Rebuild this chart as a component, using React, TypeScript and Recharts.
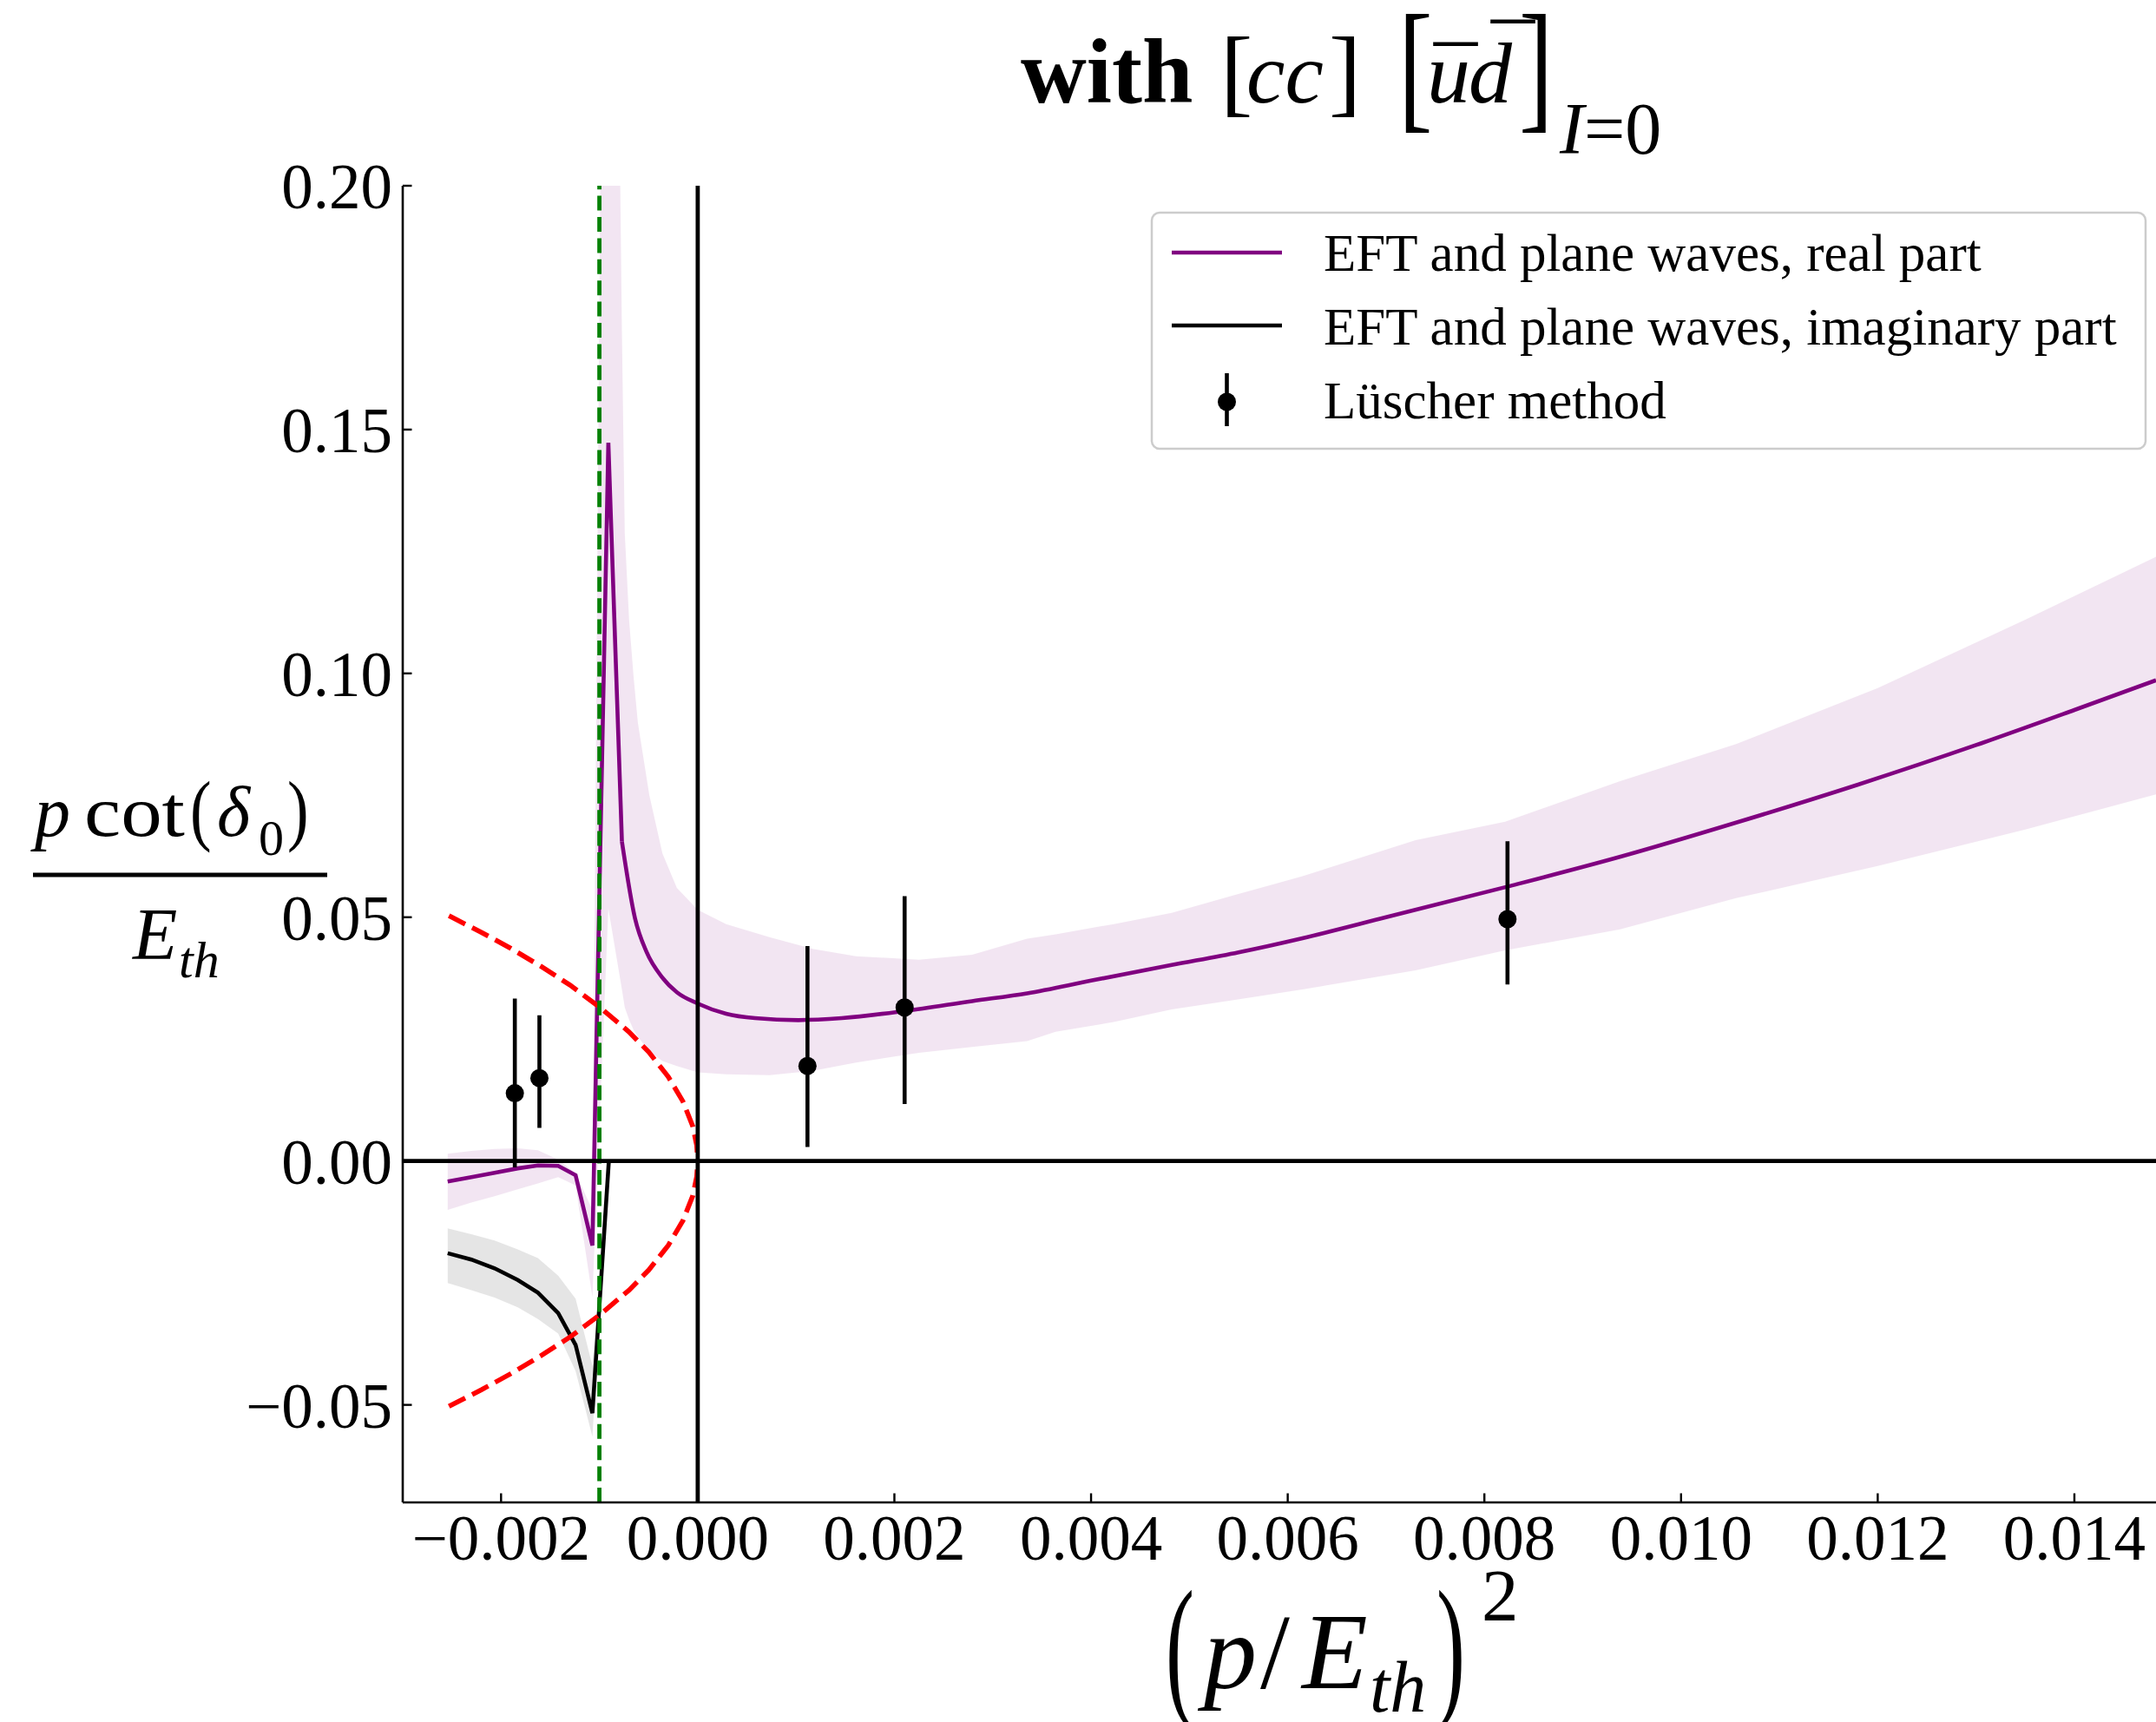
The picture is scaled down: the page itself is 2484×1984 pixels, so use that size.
import React from 'react';
import {
  ComposedChart,
  Line,
  Area,
  Scatter,
  ErrorBar,
  XAxis,
  YAxis,
  ReferenceLine,
} from 'recharts';

const FONT = '"Liberation Serif", "Times New Roman", serif';

// Real part of p cot(delta_0)/E_th from the EFT with plane waves
const realX = [
  -0.002543, -0.002302, -0.002066, -0.00183, -0.001625, -0.001419, -0.001242, -0.001071,
  -0.000909, -0.000771, -0.000638, -0.000521, -0.000359, -0.000212, 0, 0.000289, 0.000583,
  0.001024, 0.001466, 0.002113, 0.00279, 0.00335, 0.004, 0.00482, 0.0055, 0.00615, 0.007,
  0.00824, 0.0094, 0.01056, 0.0118, 0.013, 0.014, 0.01483,
];
const realY = [
  -0.0042, -0.0033, -0.0024, -0.0015, -0.0009, -0.001, -0.0029, -0.0173,
  0.1473, 0.0655, 0.0498, 0.0429, 0.0376, 0.0346, 0.0323, 0.0302, 0.0293,
  0.0289, 0.0293, 0.0308, 0.0328, 0.0344, 0.037, 0.0402, 0.0428, 0.0457, 0.05,
  0.0563, 0.0625, 0.0694, 0.0772, 0.0853, 0.0925, 0.0986,
];
// index where the coarse sub-threshold grid ends and the smooth branch begins
const SMOOTH_FROM = 9;

// Uncertainty band of the real part
const realBandX = [
  -0.002543, -0.002302, -0.002066, -0.00183, -0.001625, -0.001419, -0.001242, -0.001071,
  -0.000909, -0.000771, -0.000742, -0.000698, -0.000653, -0.000609, -0.000492, -0.000359,
  -0.000212, 0, 0.000289, 0.00073, 0.00117, 0.00161, 0.00225, 0.00279, 0.00335, 0.00364,
  0.00423, 0.00482, 0.00545, 0.00615, 0.0073, 0.00821, 0.00938, 0.01056, 0.012, 0.0135, 0.01483,
];
const realBandLo = [
  -0.01, -0.0085, -0.0072, -0.0058, -0.0046, -0.0033, -0.005, -0.0279,
  0.0518, 0.0352, 0.0315, 0.029, 0.0269, 0.0255, 0.0225, 0.0205,
  0.0195, 0.0182, 0.0178, 0.0176, 0.0185, 0.0202, 0.0222, 0.0234, 0.0246, 0.0265,
  0.0285, 0.0311, 0.033, 0.0352, 0.0391, 0.0432, 0.0475, 0.0539, 0.0605, 0.068, 0.0752,
];
const realBandHi = [
  0.0015, 0.0021, 0.0025, 0.0026, 0.0022, 0.0003, -0.0025, -0.01,
  0.417, 0.17, 0.1288, 0.111, 0.0995, 0.0899, 0.075, 0.0631,
  0.056, 0.0515, 0.0486, 0.0459, 0.0435, 0.042, 0.0413, 0.0423, 0.0456, 0.0465,
  0.0486, 0.0509, 0.0545, 0.0584, 0.0658, 0.0696, 0.0779, 0.0855, 0.097, 0.111, 0.1239,
];

// Imaginary part below threshold, with its band
const imagX = [-0.002543, -0.002302, -0.002066, -0.00183, -0.001625, -0.001419, -0.001242, -0.001071, -0.000904];
const imagY = [-0.0189, -0.0202, -0.022, -0.0244, -0.027, -0.0312, -0.0377, -0.0517, 0];
const imagBandLo = [-0.025, -0.0265, -0.028, -0.03, -0.0324, -0.0354, -0.0431, -0.0565, -0.0004];
const imagBandHi = [-0.0138, -0.015, -0.0163, -0.0181, -0.0199, -0.0235, -0.0282, -0.042, 0.0002];

// Bound-state condition curve +-|p|/E_th
const boundX = [-0.00253, -0.0022, -0.0019, -0.0016, -0.0013, -0.001, -0.0007, -0.0005, -0.0003, -0.00015, -0.00005, -0.00001, 0];
const boundUp = [0.0503, 0.0469, 0.0436, 0.04, 0.0361, 0.0316, 0.0265, 0.0224, 0.0173, 0.0122, 0.0071, 0.0032, 0];
const boundDown = [-0.0503, -0.0469, -0.0436, -0.04, -0.0361, -0.0316, -0.0265, -0.0224, -0.0173, -0.0122, -0.0071, -0.0032, 0];

// Lüscher-method points with asymmetric errors
const lusX = [-0.00186, -0.00161, 0.001116, 0.002104, 0.008235];
const lusY = [0.0139, 0.017, 0.0195, 0.0315, 0.0496];
const lusLow = [-0.0013, 0.0068, 0.0029, 0.0117, 0.0362];
const lusHigh = [0.0333, 0.0299, 0.0441, 0.0543, 0.0656];

const xTicks = [-0.002, 0, 0.002, 0.004, 0.006, 0.008, 0.01, 0.012, 0.014];
const yTicks = [-0.05, 0, 0.05, 0.1, 0.15, 0.2];
const X_DOMAIN: [number, number] = [-0.003, 0.01483];
const Y_DOMAIN: [number, number] = [-0.07, 0.2];
const THRESHOLD_X = -0.001;

const realData = realX.map((x, i) => ({ x, y: realY[i] }));
const realCoarse = realData.slice(0, SMOOTH_FROM + 1);
const realSmooth = realData.slice(SMOOTH_FROM);
const realBand = realBandX.map((x, i) => ({ x, band: [realBandLo[i], realBandHi[i]] }));
const imagData = imagX.map((x, i) => ({ x, y: imagY[i] }));
const imagBand = imagX.map((x, i) => ({ x, band: [imagBandLo[i], imagBandHi[i]] }));
const boundData = boundX.map((x, i) => ({ x, up: boundUp[i], down: boundDown[i] }));
const lusData = lusX.map((x, i) => ({ x, y: lusY[i], err: [lusY[i] - lusLow[i], lusHigh[i] - lusY[i]] }));

const W = 2484;
const H = 1984;

const fmt = (v: number, d: number) => (v < 0 ? '\u2212' : '') + Math.abs(v).toFixed(d);

const XTick = (props: any) => {
  const { x, y, payload } = props;
  return (
    <g>
      <line x1={x} x2={x} y1={y} y2={y - 10.5} stroke="#000" strokeWidth={2.4} />
      <text x={x} y={y + 66} textAnchor="middle" fontFamily={FONT} fontSize={73} fill="#000">
        {fmt(payload.value, 3)}
      </text>
    </g>
  );
};

const YTick = (props: any) => {
  const { x, y, payload } = props;
  return (
    <g>
      <line x1={x} x2={x + 10.5} y1={y} y2={y} stroke="#000" strokeWidth={2.4} />
      <text x={x - 12} y={y + 26} textAnchor="end" fontFamily={FONT} fontSize={73} fill="#000">
        {fmt(payload.value, 2)}
      </text>
    </g>
  );
};

const Dot = (props: any) => <circle cx={props.cx} cy={props.cy} r={10.5} fill="#000" />;

const Overlay = () => (
  <svg
    width={W}
    height={H}
    style={{ position: 'absolute', left: 0, top: 0, pointerEvents: 'none' }}
    fontFamily={FONT}
  >
    {/* title */}
    <text x={1176} y={118} fontSize={105} fontWeight="bold">with</text>
    <text x={1406} y={120} fontSize={112}>[</text>
    <text x={1436} y={118} fontSize={100} fontStyle="italic">cc</text>
    <text x={1531} y={120} fontSize={112}>]</text>
    <text transform="translate(1611,131) scale(0.72,1)" fontSize={165}>[</text>
    <text x={1644} y={118} fontSize={100} fontStyle="italic">u</text>
    <text x={1652} y={124} fontSize={100}>¯</text>
    <text x={1692} y={118} fontSize={100} fontStyle="italic">d</text>
    <text x={1718} y={98} fontSize={100}>¯</text>
    <text transform="translate(1750,131) scale(0.72,1)" fontSize={165}>]</text>
    <text x={1797} y={177} fontSize={84}>
      <tspan fontStyle="italic">I</tspan>=0
    </text>

    {/* y-axis label */}
    <text x={40} y={963} fontSize={82} fontStyle="italic">p</text>
    <text x={97} y={963} fontSize={82} textLength={116} lengthAdjust="spacingAndGlyphs">cot</text>
    <text transform="translate(219,963) scale(0.9,1.12)" fontSize={82}>(</text>
    <text x={250} y={963} fontSize={82} fontStyle="italic">δ</text>
    <text x={298} y={985} fontSize={58}>0</text>
    <text transform="translate(331,963) scale(0.9,1.12)" fontSize={82}>)</text>
    <line x1={38} x2={377} y1={1008} y2={1008} stroke="#000" strokeWidth={5} />
    <text x={153} y={1105} fontSize={84} fontStyle="italic">E</text>
    <text x={206} y={1126} fontSize={60} fontStyle="italic">th</text>

    {/* x-axis label */}
    <text transform="translate(1343,1957) scale(0.55,1)" fontSize={180}>(</text>
    <text x={1387} y={1945} fontSize={122} fontStyle="italic">p</text>
    <text x={1452} y={1945} fontSize={122}>/</text>
    <text x={1500} y={1945} fontSize={124} fontStyle="italic">E</text>
    <text x={1578} y={1972} fontSize={84} fontStyle="italic">th</text>
    <text transform="translate(1655,1957) scale(0.55,1)" fontSize={180}>)</text>
    <text x={1707} y={1867} fontSize={85}>2</text>

    {/* legend */}
    <rect x={1327} y={245} width={1145} height={272} rx={9} fill="#fff" fillOpacity={0.8} stroke="#cccccc" strokeWidth={2.5} />
    <line x1={1350} x2={1477} y1={291} y2={291} stroke="purple" strokeWidth={4.6} />
    <text x={1525} y={312} fontSize={61}>EFT and plane waves, real part</text>
    <line x1={1350} x2={1477} y1={375} y2={375} stroke="#000" strokeWidth={4.6} />
    <text x={1525} y={397} fontSize={61}>EFT and plane waves, imaginary part</text>
    <line x1={1413.5} x2={1413.5} y1={430} y2={491} stroke="#000" strokeWidth={4.6} />
    <circle cx={1413.5} cy={463} r={10.5} fill="#000" />
    <text x={1525} y={482} fontSize={61}>Lüscher method</text>
  </svg>
);

export default function App() {
  return (
    <div style={{ position: 'absolute', left: 0, top: 0, width: W, height: H, background: '#fff' }}>
      <ComposedChart width={W} height={H} margin={{ top: 214, right: 0, bottom: 0, left: 0 }}>
        <XAxis
          dataKey="x"
          type="number"
          domain={X_DOMAIN}
          allowDataOverflow
          ticks={xTicks}
          interval={0}
          height={253}
          tickSize={0}
          tickMargin={0}
          tickLine={false}
          tick={XTick}
          axisLine={{ stroke: '#000', strokeWidth: 2.6 }}
        />
        <XAxis
          xAxisId="top"
          orientation="top"
          type="number"
          domain={X_DOMAIN}
          allowDataOverflow
          height={0}
          tick={false}
          tickLine={false}
          axisLine={{ stroke: '#000', strokeWidth: 2.6 }}
        />
        <YAxis
          type="number"
          domain={Y_DOMAIN}
          allowDataOverflow
          ticks={yTicks}
          interval={0}
          width={464}
          tickSize={0}
          tickMargin={0}
          tickLine={false}
          tick={YTick}
          axisLine={{ stroke: '#000', strokeWidth: 2.6 }}
        />
        <Area data={realBand} dataKey="band" type="linear" stroke="none" fill="purple" fillOpacity={0.1} isAnimationActive={false} />
        <Area data={imagBand} dataKey="band" type="linear" stroke="none" fill="#000" fillOpacity={0.1} isAnimationActive={false} />
        <Line data={realCoarse} dataKey="y" type="linear" stroke="purple" strokeWidth={4.6} dot={false} activeDot={false} isAnimationActive={false} />
        <Line data={realSmooth} dataKey="y" type="monotone" stroke="purple" strokeWidth={4.6} dot={false} activeDot={false} isAnimationActive={false} />
        <Line data={imagData} dataKey="y" type="linear" stroke="#000" strokeWidth={4.6} dot={false} activeDot={false} isAnimationActive={false} />
        <Line data={boundData} dataKey="up" type="linear" stroke="#ff0000" strokeWidth={5.6} strokeDasharray="21 9" dot={false} activeDot={false} isAnimationActive={false} />
        <Line data={boundData} dataKey="down" type="linear" stroke="#ff0000" strokeWidth={5.6} strokeDasharray="21 9" dot={false} activeDot={false} isAnimationActive={false} />
        <ReferenceLine x={THRESHOLD_X} stroke="#008000" strokeWidth={4.8} strokeDasharray="17 7.4" />
        <ReferenceLine x={0} stroke="#000" strokeWidth={4.8} />
        <ReferenceLine y={0} stroke="#000" strokeWidth={4.8} />
        <Scatter data={lusData} dataKey="y" shape={Dot} isAnimationActive={false}>
          <ErrorBar dataKey="err" direction="y" width={0} stroke="#000" strokeWidth={4.6} isAnimationActive={false} />
        </Scatter>
      </ComposedChart>
      <Overlay />
    </div>
  );
}
